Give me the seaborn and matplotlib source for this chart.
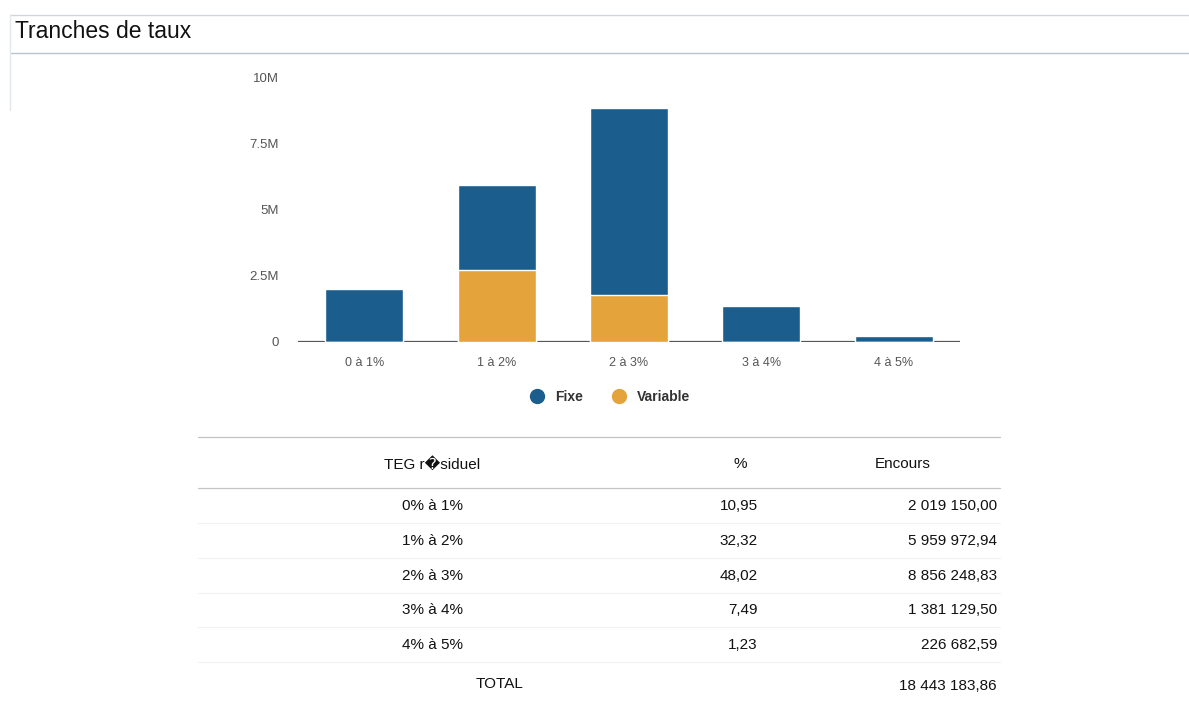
import matplotlib
matplotlib.use("Agg")
import matplotlib.pyplot as plt
from matplotlib.lines import Line2D
import seaborn as sns
import pandas as pd

# ---- data ----
categories = ["0 à 1%", "1 à 2%", "2 à 3%", "3 à 4%", "4 à 5%"]
fixe = [2019150, 3230000, 7076000, 1381130, 226683]
variable = [0, 2730000, 1780000, 0, 0]
yticks = [0, 2500000, 5000000, 7500000, 10000000]
ytick_labels = ["0", "2.5M", "5M", "7.5M", "10M"]

table_header = ["TEG r\ufffdsiduel", "%", "Encours"]
table_rows = ["0% à 1%", "1% à 2%", "2% à 3%", "3% à 4%", "4% à 5%"]
table_pct = ["10,95", "32,32", "48,02", "7,49", "1,23"]
table_encours = ["2 019 150,00", "5 959 972,94", "8 856 248,83", "1 381 129,50", "226 682,59"]
total_label = "TOTAL"
total_value = "18 443 183,86"

BLUE = "#1b5e8d"
ORANGE = "#e4a43b"

sns.set_theme(style="white")
plt.rcParams['font.family'] = ['Liberation Sans', 'DejaVu Sans']

W, H = 1189, 706
fig = plt.figure(figsize=(W / 100, H / 100), dpi=100)

def fx(px):
    return px / W

def fy(py):
    return 1 - py / H

ax = fig.add_axes([fx(298), fy(342), fx(960) - fx(298), fy(78) - fy(342)])

df = pd.DataFrame({
    "cat": categories,
    "total": [f + v for f, v in zip(fixe, variable)],
    "variable": variable,
})
sns.barplot(data=df, x="cat", y="total", color=BLUE, width=0.59, saturation=1, ax=ax, order=categories)
sns.barplot(data=df, x="cat", y="variable", color=ORANGE, width=0.59, saturation=1, ax=ax, order=categories)

ax.set_xlim(-0.5, 4.5)
ax.set_ylim(0, 10000000)
ax.set_yticks(yticks)
ax.set_yticklabels(ytick_labels)
ax.set_xlabel("")
ax.set_ylabel("")
for s in ax.spines.values():
    s.set_visible(False)
ax.axhline(0, color="#555555", lw=1.6, zorder=0.5)
ax.tick_params(axis="y", length=0, pad=14, labelsize=9.5, labelcolor="#555555")
ax.tick_params(axis="x", length=0, pad=11, labelsize=9, labelcolor="#555555")

# legend
handles = [
    Line2D([0], [0], marker="o", linestyle="", markersize=10, markerfacecolor=BLUE, markeredgecolor=BLUE),
    Line2D([0], [0], marker="o", linestyle="", markersize=10, markerfacecolor=ORANGE, markeredgecolor=ORANGE),
]
leg = fig.legend(handles, ["Fixe", "Variable"], loc="center", bbox_to_anchor=(fx(607), fy(397)),
                 ncol=2, frameon=False, handletextpad=0.3, columnspacing=1.6,
                 prop={"weight": "bold", "size": 10})
for t in leg.get_texts():
    t.set_color("#333333")

# title box
fig.text(fx(15), fy(32), "Tranches de taux", fontsize=16.5, ha="left", va="center", color="#111111")
for (x0, y0, x1, y1, c) in [
    (10, 15, 1189, 15, "#cfd6dc"),
    (10, 53, 1189, 53, "#b9c3cc"),
    (10, 15, 10, 110, "#e3e8ec"),
]:
    fig.add_artist(Line2D([fx(x0), fx(x1)], [fy(y0), fy(y1)], color=c, lw=1, transform=fig.transFigure))

# table
fs = 11
tc = "#111111"
fig.add_artist(Line2D([fx(198), fx(1000)], [fy(437), fy(437)], color="#c4c4c4", lw=0.9, transform=fig.transFigure))
fig.add_artist(Line2D([fx(198), fx(1000)], [fy(488), fy(488)], color="#c4c4c4", lw=0.9, transform=fig.transFigure))
fig.text(fx(432), fy(464), table_header[0], fontsize=fs, ha="center", va="center", color=tc)
fig.text(fx(740), fy(464), table_header[1], fontsize=fs, ha="center", va="center", color=tc)
fig.text(fx(903), fy(464), table_header[2], fontsize=fs, ha="center", va="center", color=tc)

row_y = [506, 541, 576, 610, 645]
for i, y in enumerate(row_y):
    fig.text(fx(432), fy(y), table_rows[i], fontsize=fs, ha="center", va="center", color=tc)
    fig.text(fx(758), fy(y), table_pct[i], fontsize=fs, ha="right", va="center", color=tc)
    fig.text(fx(997), fy(y), table_encours[i], fontsize=fs, ha="right", va="center", color=tc)
    sep = y + 17
    fig.add_artist(Line2D([fx(198), fx(1000)], [fy(sep), fy(sep)], color="#f1f1f1", lw=0.8,
                          transform=fig.transFigure))
fig.text(fx(500), fy(684), total_label, fontsize=fs, ha="center", va="center", color=tc)
fig.text(fx(997), fy(686), total_value, fontsize=fs, ha="right", va="center", color=tc)

fig.savefig("out.png", dpi=100)
